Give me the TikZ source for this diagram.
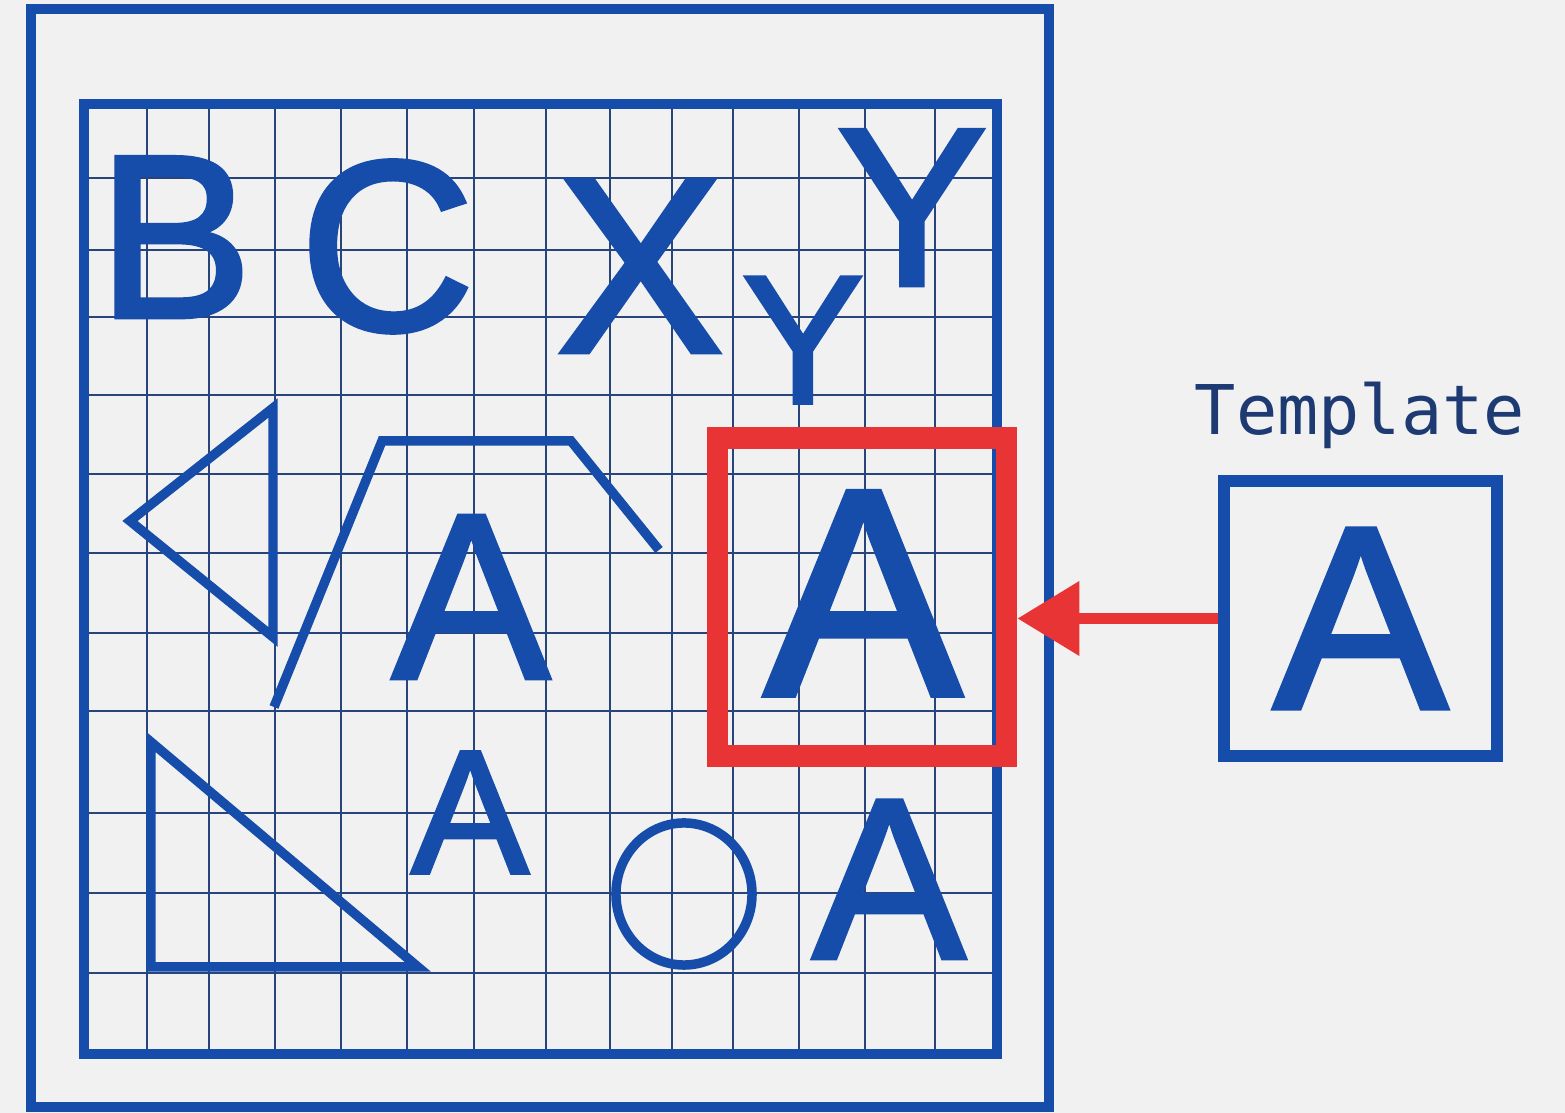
\documentclass[tikz,border=0pt]{standalone}
\usepackage{fontspec}
\setmainfont{Liberation Sans}
\newfontfamily\glyphfam[FakeBold=2]{Liberation Sans}
\newfontfamily\monofam{DejaVu Sans Mono}
\usetikzlibrary{arrows.meta,positioning}
\definecolor{tmblue}{RGB}{22,76,170}
\definecolor{tmgrid}{RGB}{40,68,125}
\definecolor{tmred}{RGB}{232,52,52}
\definecolor{tmpaper}{RGB}{241,241,241}
\definecolor{tmlabel}{RGB}{30,58,115}
\newcommand{\gsz}[1]{\glyphfam\fontsize{#1}{#1}\selectfont}

\begin{document}
\begin{tikzpicture}[x=0.01cm,y=-0.01cm,
  frame/.style={draw=tmblue,line width=3.1pt},
  gridline/.style={draw=tmgrid,line width=0.8pt},
  outline/.style={draw=tmblue,line width=2.7pt},
  glyph/.style={text=tmblue,inner sep=0pt,anchor=base},
  matchbox/.style={draw=tmred,line width=6.2pt,minimum width=2.89cm,minimum height=3.18cm,inner sep=0pt},
  tmplbox/.style={draw=tmblue,line width=3.4pt,minimum width=2.73cm,minimum height=2.75cm,inner sep=0pt,text=tmblue},
  hit/.style={-{Triangle[length=17.6pt,width=20.5pt]},draw=tmred,line width=3.1pt}]
  \fill[tmpaper] (0,0) rectangle (1565,1113);
  \useasboundingbox (0,0) rectangle (1565,1113);
  % search image with its grid
  \foreach \gx in {147,209,275,341,407,474,546,610,672,733,799,865,935}
    \draw[gridline] (\gx,104) -- (\gx,1054);
  \foreach \gy in {178,250,317,395,474,553,633,711,813,893,973}
    \draw[gridline] (84,\gy) -- (997,\gy);
  \draw[frame] (84,104) rectangle (997,1054);
  \draw[frame] (31,9) rectangle (1049,1107);
  % letters
  \node[glyph,font=\gsz{66pt}] (b) at (175,317) {B};
  \node[glyph,font=\gsz{69pt}] (c) at (387,330) {C};
  \node[glyph,font=\gsz{71pt}] (x) at (640,352) {X};
  \node[glyph,font=\gsz{64pt}] (ybig) at (912,285) {Y};
  \node[glyph,font=\gsz{52pt}] (ysmall) at (803,403) {Y};
  \node[glyph,font=\gsz{67pt}] (amid) at (471,678) {A};
  \node[glyph,font=\gsz{50pt}] (asmall) at (470,873) {A};
  \node[glyph,font=\gsz{65pt}] (acorner) at (889,958) {A};
  \node[glyph,font=\gsz{84pt}] (abig) at (863,695) {A};
  % shapes
  \draw[outline] (273,408) -- (130,521) -- (273,637) -- cycle;
  \draw[outline] (274,707) -- (382,441) -- (571,441) -- (659,550);
  \draw[outline] (151,742) -- (151,967) -- (418,967) -- cycle;
  \draw[outline] (684,894) ellipse [x radius=0.68cm,y radius=0.71cm];
  % match and template
  \node[matchbox] (match) at (862,597) {};
  \node[tmplbox,font=\gsz{74pt}] (tmpl) at (1360.5,618.5) {A};
  \node[anchor=base,text=tmlabel,font=\monofam\fontsize{19.5pt}{19.5pt}\selectfont] (tlabel) at (1360,435) {Template};
  \draw[hit] (tmpl.west) -- (tmpl.west -| match.east);
\end{tikzpicture}
\end{document}
